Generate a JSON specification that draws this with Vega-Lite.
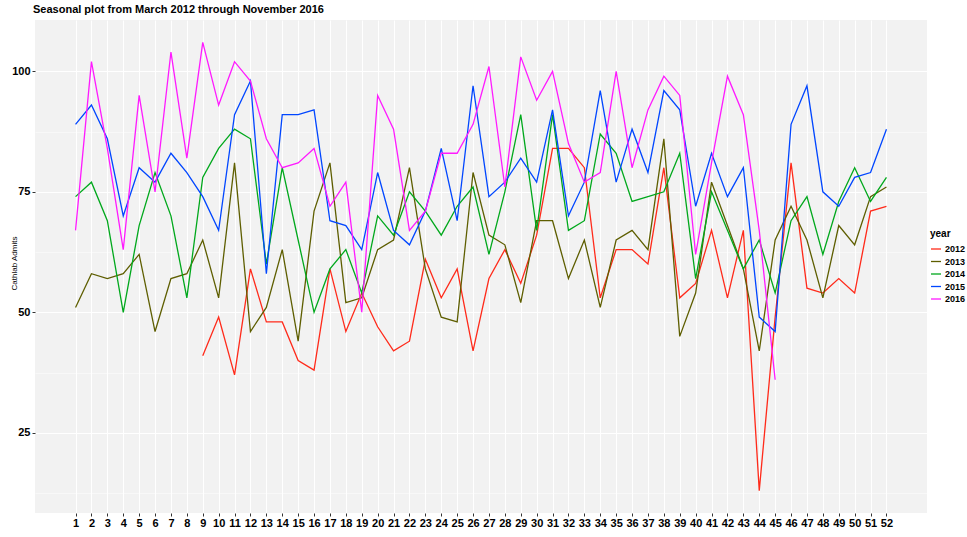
{
  "$schema": "https://vega.github.io/schema/vega-lite/v6.json",
  "width": 892,
  "height": 493,
  "autosize": {"type": "none"},
  "padding": {"left": 35, "top": 20, "right": 40, "bottom": 24},
  "background": "white",
  "title": {
    "text": "Seasonal plot from March 2012 through November 2016",
    "anchor": "start",
    "frame": "group",
    "font": "Liberation Sans",
    "fontSize": 11,
    "fontWeight": "bold",
    "color": "black",
    "offset": 5,
    "dx": -2
  },
  "config": {
    "view": {"fill": "#F2F2F2", "stroke": null},
    "axis": {
      "domain": false,
      "labelFont": "Liberation Sans",
      "labelFontWeight": "bold",
      "labelFontSize": 11,
      "labelColor": "black",
      "tickColor": "#333333",
      "tickSize": 3,
      "gridColor": "white",
      "titleFont": "Liberation Sans"
    }
  },
  "data": {"values": [
    {"week":9,"year":"2012","admits":41},{"week":10,"year":"2012","admits":49},{"week":11,"year":"2012","admits":37},{"week":12,"year":"2012","admits":59},{"week":13,"year":"2012","admits":48},{"week":14,"year":"2012","admits":48},{"week":15,"year":"2012","admits":40},{"week":16,"year":"2012","admits":38},{"week":17,"year":"2012","admits":59},{"week":18,"year":"2012","admits":46},{"week":19,"year":"2012","admits":54},{"week":20,"year":"2012","admits":47},{"week":21,"year":"2012","admits":42},{"week":22,"year":"2012","admits":44},{"week":23,"year":"2012","admits":61},{"week":24,"year":"2012","admits":53},{"week":25,"year":"2012","admits":59},{"week":26,"year":"2012","admits":42},{"week":27,"year":"2012","admits":57},{"week":28,"year":"2012","admits":63},{"week":29,"year":"2012","admits":56},{"week":30,"year":"2012","admits":66},{"week":31,"year":"2012","admits":84},{"week":32,"year":"2012","admits":84},{"week":33,"year":"2012","admits":80},{"week":34,"year":"2012","admits":53},{"week":35,"year":"2012","admits":63},{"week":36,"year":"2012","admits":63},{"week":37,"year":"2012","admits":60},{"week":38,"year":"2012","admits":80},{"week":39,"year":"2012","admits":53},{"week":40,"year":"2012","admits":56},{"week":41,"year":"2012","admits":67},{"week":42,"year":"2012","admits":53},{"week":43,"year":"2012","admits":67},{"week":44,"year":"2012","admits":13},{"week":45,"year":"2012","admits":49},{"week":46,"year":"2012","admits":81},{"week":47,"year":"2012","admits":55},{"week":48,"year":"2012","admits":54},{"week":49,"year":"2012","admits":57},{"week":50,"year":"2012","admits":54},{"week":51,"year":"2012","admits":71},{"week":52,"year":"2012","admits":72},
    {"week":1,"year":"2013","admits":51},{"week":2,"year":"2013","admits":58},{"week":3,"year":"2013","admits":57},{"week":4,"year":"2013","admits":58},{"week":5,"year":"2013","admits":62},{"week":6,"year":"2013","admits":46},{"week":7,"year":"2013","admits":57},{"week":8,"year":"2013","admits":58},{"week":9,"year":"2013","admits":65},{"week":10,"year":"2013","admits":53},{"week":11,"year":"2013","admits":81},{"week":12,"year":"2013","admits":46},{"week":13,"year":"2013","admits":51},{"week":14,"year":"2013","admits":63},{"week":15,"year":"2013","admits":44},{"week":16,"year":"2013","admits":71},{"week":17,"year":"2013","admits":81},{"week":18,"year":"2013","admits":52},{"week":19,"year":"2013","admits":53},{"week":20,"year":"2013","admits":63},{"week":21,"year":"2013","admits":65},{"week":22,"year":"2013","admits":80},{"week":23,"year":"2013","admits":59},{"week":24,"year":"2013","admits":49},{"week":25,"year":"2013","admits":48},{"week":26,"year":"2013","admits":79},{"week":27,"year":"2013","admits":66},{"week":28,"year":"2013","admits":64},{"week":29,"year":"2013","admits":52},{"week":30,"year":"2013","admits":69},{"week":31,"year":"2013","admits":69},{"week":32,"year":"2013","admits":57},{"week":33,"year":"2013","admits":65},{"week":34,"year":"2013","admits":51},{"week":35,"year":"2013","admits":65},{"week":36,"year":"2013","admits":67},{"week":37,"year":"2013","admits":63},{"week":38,"year":"2013","admits":86},{"week":39,"year":"2013","admits":45},{"week":40,"year":"2013","admits":54},{"week":41,"year":"2013","admits":77},{"week":42,"year":"2013","admits":68},{"week":43,"year":"2013","admits":59},{"week":44,"year":"2013","admits":42},{"week":45,"year":"2013","admits":65},{"week":46,"year":"2013","admits":72},{"week":47,"year":"2013","admits":65},{"week":48,"year":"2013","admits":53},{"week":49,"year":"2013","admits":68},{"week":50,"year":"2013","admits":64},{"week":51,"year":"2013","admits":74},{"week":52,"year":"2013","admits":76},
    {"week":1,"year":"2014","admits":74},{"week":2,"year":"2014","admits":77},{"week":3,"year":"2014","admits":69},{"week":4,"year":"2014","admits":50},{"week":5,"year":"2014","admits":68},{"week":6,"year":"2014","admits":79},{"week":7,"year":"2014","admits":70},{"week":8,"year":"2014","admits":53},{"week":9,"year":"2014","admits":78},{"week":10,"year":"2014","admits":84},{"week":11,"year":"2014","admits":88},{"week":12,"year":"2014","admits":86},{"week":13,"year":"2014","admits":60},{"week":14,"year":"2014","admits":80},{"week":15,"year":"2014","admits":65},{"week":16,"year":"2014","admits":50},{"week":17,"year":"2014","admits":59},{"week":18,"year":"2014","admits":63},{"week":19,"year":"2014","admits":54},{"week":20,"year":"2014","admits":70},{"week":21,"year":"2014","admits":66},{"week":22,"year":"2014","admits":75},{"week":23,"year":"2014","admits":71},{"week":24,"year":"2014","admits":66},{"week":25,"year":"2014","admits":72},{"week":26,"year":"2014","admits":76},{"week":27,"year":"2014","admits":62},{"week":28,"year":"2014","admits":75},{"week":29,"year":"2014","admits":91},{"week":30,"year":"2014","admits":67},{"week":31,"year":"2014","admits":91},{"week":32,"year":"2014","admits":67},{"week":33,"year":"2014","admits":69},{"week":34,"year":"2014","admits":87},{"week":35,"year":"2014","admits":83},{"week":36,"year":"2014","admits":73},{"week":37,"year":"2014","admits":74},{"week":38,"year":"2014","admits":75},{"week":39,"year":"2014","admits":83},{"week":40,"year":"2014","admits":57},{"week":41,"year":"2014","admits":75},{"week":42,"year":"2014","admits":67},{"week":43,"year":"2014","admits":59},{"week":44,"year":"2014","admits":65},{"week":45,"year":"2014","admits":54},{"week":46,"year":"2014","admits":69},{"week":47,"year":"2014","admits":74},{"week":48,"year":"2014","admits":62},{"week":49,"year":"2014","admits":73},{"week":50,"year":"2014","admits":80},{"week":51,"year":"2014","admits":73},{"week":52,"year":"2014","admits":78},
    {"week":1,"year":"2015","admits":89},{"week":2,"year":"2015","admits":93},{"week":3,"year":"2015","admits":86},{"week":4,"year":"2015","admits":70},{"week":5,"year":"2015","admits":80},{"week":6,"year":"2015","admits":77},{"week":7,"year":"2015","admits":83},{"week":8,"year":"2015","admits":79},{"week":9,"year":"2015","admits":74},{"week":10,"year":"2015","admits":67},{"week":11,"year":"2015","admits":91},{"week":12,"year":"2015","admits":98},{"week":13,"year":"2015","admits":58},{"week":14,"year":"2015","admits":91},{"week":15,"year":"2015","admits":91},{"week":16,"year":"2015","admits":92},{"week":17,"year":"2015","admits":69},{"week":18,"year":"2015","admits":68},{"week":19,"year":"2015","admits":63},{"week":20,"year":"2015","admits":79},{"week":21,"year":"2015","admits":67},{"week":22,"year":"2015","admits":64},{"week":23,"year":"2015","admits":71},{"week":24,"year":"2015","admits":84},{"week":25,"year":"2015","admits":69},{"week":26,"year":"2015","admits":97},{"week":27,"year":"2015","admits":74},{"week":28,"year":"2015","admits":77},{"week":29,"year":"2015","admits":82},{"week":30,"year":"2015","admits":77},{"week":31,"year":"2015","admits":92},{"week":32,"year":"2015","admits":70},{"week":33,"year":"2015","admits":77},{"week":34,"year":"2015","admits":96},{"week":35,"year":"2015","admits":77},{"week":36,"year":"2015","admits":88},{"week":37,"year":"2015","admits":79},{"week":38,"year":"2015","admits":96},{"week":39,"year":"2015","admits":92},{"week":40,"year":"2015","admits":72},{"week":41,"year":"2015","admits":83},{"week":42,"year":"2015","admits":74},{"week":43,"year":"2015","admits":80},{"week":44,"year":"2015","admits":49},{"week":45,"year":"2015","admits":46},{"week":46,"year":"2015","admits":89},{"week":47,"year":"2015","admits":97},{"week":48,"year":"2015","admits":75},{"week":49,"year":"2015","admits":72},{"week":50,"year":"2015","admits":78},{"week":51,"year":"2015","admits":79},{"week":52,"year":"2015","admits":88},
    {"week":1,"year":"2016","admits":67},{"week":2,"year":"2016","admits":102},{"week":3,"year":"2016","admits":84},{"week":4,"year":"2016","admits":63},{"week":5,"year":"2016","admits":95},{"week":6,"year":"2016","admits":75},{"week":7,"year":"2016","admits":104},{"week":8,"year":"2016","admits":82},{"week":9,"year":"2016","admits":106},{"week":10,"year":"2016","admits":93},{"week":11,"year":"2016","admits":102},{"week":12,"year":"2016","admits":98},{"week":13,"year":"2016","admits":86},{"week":14,"year":"2016","admits":80},{"week":15,"year":"2016","admits":81},{"week":16,"year":"2016","admits":84},{"week":17,"year":"2016","admits":72},{"week":18,"year":"2016","admits":77},{"week":19,"year":"2016","admits":50},{"week":20,"year":"2016","admits":95},{"week":21,"year":"2016","admits":88},{"week":22,"year":"2016","admits":67},{"week":23,"year":"2016","admits":71},{"week":24,"year":"2016","admits":83},{"week":25,"year":"2016","admits":83},{"week":26,"year":"2016","admits":89},{"week":27,"year":"2016","admits":101},{"week":28,"year":"2016","admits":76},{"week":29,"year":"2016","admits":103},{"week":30,"year":"2016","admits":94},{"week":31,"year":"2016","admits":100},{"week":32,"year":"2016","admits":85},{"week":33,"year":"2016","admits":77},{"week":34,"year":"2016","admits":79},{"week":35,"year":"2016","admits":100},{"week":36,"year":"2016","admits":80},{"week":37,"year":"2016","admits":92},{"week":38,"year":"2016","admits":99},{"week":39,"year":"2016","admits":95},{"week":40,"year":"2016","admits":62},{"week":41,"year":"2016","admits":81},{"week":42,"year":"2016","admits":99},{"week":43,"year":"2016","admits":91},{"week":44,"year":"2016","admits":67},{"week":45,"year":"2016","admits":36}
  ]},
  "mark": {"type": "line", "strokeWidth": 1.3, "clip": true},
  "encoding": {
    "x": {
      "field": "week",
      "type": "quantitative",
      "scale": {"domain": [-1.55, 54.55], "nice": false, "zero": false},
      "axis": {
        "title": null,
        "values": [1,2,3,4,5,6,7,8,9,10,11,12,13,14,15,16,17,18,19,20,21,22,23,24,25,26,27,28,29,30,31,32,33,34,35,36,37,38,39,40,41,42,43,44,45,46,47,48,49,50,51,52],
        "format": "d",
        "labelPadding": 1,
        "gridWidth": 1,
        "labelFlush": false,
        "labelOverlap": false
      }
    },
    "y": {
      "field": "admits",
      "type": "quantitative",
      "scale": {"domain": [8.35, 110.65], "nice": false, "zero": false},
      "axis": {
        "title": "Cathlab Admits",
        "titleFontSize": 8,
        "titleFontWeight": "normal",
        "titleColor": "black",
        "titleAngle": -90,
        "titleX": -17,
        "titleY": 243,
        "titleAlign": "center",
        "titleBaseline": "bottom",
        "values": [12.5, 25, 37.5, 50, 62.5, 75, 87.5, 100],
        "labelExpr": "datum.value % 25 === 0 ? datum.label : ''",
        "tickOpacity": {"condition": {"test": "datum.value % 25 === 0", "value": 1}, "value": 0},
        "gridWidth": {"condition": {"test": "datum.value % 25 === 0", "value": 1.1}, "value": 0.5},
        "labelPadding": 2
      }
    },
    "color": {
      "field": "year",
      "type": "nominal",
      "scale": {
        "domain": ["2012", "2013", "2014", "2015", "2016"],
        "range": ["#FF2A1A", "#5E5E00", "#00A81C", "#0046FF", "#FF1AFF"]
      },
      "legend": {
        "title": "year",
        "orient": "none",
        "legendX": 895,
        "legendY": 209,
        "titleFont": "Liberation Sans",
        "titleFontSize": 10,
        "titleFontWeight": "bold",
        "titleColor": "black",
        "labelFont": "Liberation Sans",
        "labelFontSize": 9,
        "labelFontWeight": "bold",
        "labelColor": "black",
        "symbolType": "stroke",
        "symbolSize": 100,
        "symbolStrokeWidth": 1.3,
        "rowPadding": 1.5,
        "labelOffset": 3,
        "titlePadding": 4
      }
    }
  }
}
